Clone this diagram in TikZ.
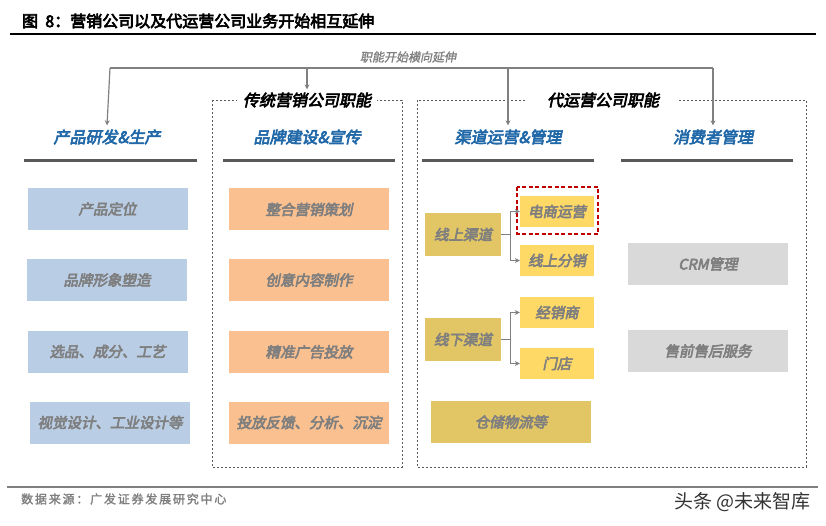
\documentclass[tikz,border=0pt]{standalone}
\usepackage{fontspec}
\usetikzlibrary{arrows.meta}
\newfontfamily\cjk{Noto Sans CJK SC}
\newfontfamily\cjkbi{Noto Sans CJK SC}[FakeSlant=0.2,FakeBold=4]
\newfontfamily\cjkb{Noto Sans CJK SC}[FakeBold=4]
\newfontfamily\cjki{Noto Sans CJK SC}[FakeSlant=0.2,FakeBold=1.5]
\newfontfamily\cjkfoot{Noto Sans CJK SC}[LetterSpace=15,FakeBold=2]
\definecolor{hblue}{HTML}{2068A8}
\definecolor{bluebox}{HTML}{B9CDE5}
\definecolor{orgbox}{HTML}{FAC090}
\definecolor{dgold}{HTML}{E2C564}
\definecolor{lgold}{HTML}{FFD966}
\definecolor{graybox}{HTML}{D9D9D9}
\definecolor{txtgray}{HTML}{7F7F7F}
\definecolor{linegray}{HTML}{595959}
\definecolor{arrgray}{HTML}{808080}
\definecolor{redd}{HTML}{C00000}
\tikzset{
  box/.style={minimum width=160pt, minimum height=42pt, inner sep=0pt, text=txtgray,
    font=\cjkbi\fontsize{14.5}{16}\selectfont},
  bluebx/.style={box, fill=bluebox},
  orgbx/.style={box, fill=orgbox},
  dgbx/.style={box, fill=dgold},
  lgbx/.style={box, fill=lgold, minimum width=74pt, minimum height=31pt},
  graybx/.style={box, fill=graybox},
  chbx/.style={box, fill=dgold, minimum width=76pt, minimum height=43pt},
  hdr/.style={text=hblue, font=\cjkbi\fontsize{16}{18}\selectfont, inner sep=4pt},
  grp/.style={text=black, font=\cjkbi\fontsize{16}{18}\selectfont, fill=white, inner ysep=3pt},
  dbox/.style={draw=linegray, line width=0.8pt, dash pattern=on 2pt off 2pt},
  ul/.style={draw=linegray, line width=3pt},
  arr/.style={draw=arrgray, line width=1.2pt, -{Stealth[length=5pt,width=5pt]}},
  ln/.style={draw=arrgray, line width=1.2pt},
}
\begin{document}
\begin{tikzpicture}[x=1pt,y=-1pt]
\useasboundingbox (0,0) rectangle (826,526);
% title
\node[anchor=west, inner sep=0pt, font=\cjkb\fontsize{16}{18}\selectfont] (title) at (22,21) {图\ \ 8：营销公司以及代运营公司业务开始相互延伸};
\draw[black, line width=1.2pt] (10,34) -- (816,34);
% group boxes
\draw[dbox] (212,100) rectangle (402,467);
\draw[dbox] (417,100) rectangle (806,467);
\node[grp, inner xsep=6pt] (g1) at (307,100) {传统营销公司职能};
\node[grp, inner xsep=20pt] (g2) at (603,100) {代运营公司职能};
% top distribution
\node[text=txtgray, font=\cjki\fontsize{12}{14}\selectfont] (hl) at (408,57) {职能开始横向延伸};
\coordinate (t1) at (110,68);
\coordinate (t2) at (307,68);
\coordinate (t3) at (508,68);
\coordinate (t4) at (713,68);
\draw[ln] (t1) -- (t4);
% headers
\node[hdr] (h1) at (107,137) {产品研发\&生产};
\node[hdr] (h2) at (307,137) {品牌建设\&宣传};
\node[hdr] (h3) at (508,137) {渠道运营\&管理};
\node[hdr] (h4) at (713,137) {消费者管理};
\draw[arr] (t1) -- (h1.north);
\draw[arr] (t2) -- (g1.north);
\draw[arr] (t3) -- (h3.north);
\draw[arr] (t4) -- (h4.north);
\draw[ul] (24,161) -- (197,161);
\draw[ul] (223,161) -- (395,161);
\draw[ul] (422,161) -- (594,161);
\draw[ul] (621,161) -- (793,161);
% blue column
\node[bluebx] (b1) at (107.5,209) {产品定位};
\node[bluebx] (b2) at (107,280) {品牌形象塑造};
\node[bluebx] (b3) at (107.5,351.5) {选品、成分、工艺};
\node[bluebx] (b4) at (110,422.5) {视觉设计、工业设计等};
% orange column
\node[orgbx] (o1) at (309,209.5) {整合营销策划};
\node[orgbx] (o2) at (309,280) {创意内容制作};
\node[orgbx] (o3) at (309,352) {精准广告投放};
\node[orgbx] (o4) at (309,422.5) {投放反馈、分析、沉淀};
% channel column
\node[chbx] (on) at (463,234.5) {线上渠道};
\node[lgbx] (ds) at (557,211.5) {电商运营};
\node[lgbx] (fx) at (557,260.5) {线上分销};
\node[chbx] (off) at (463,339.5) {线下渠道};
\node[lgbx] (jx) at (557,312.5) {经销商};
\node[lgbx] (md) at (557,363.5) {门店};
\node[dgbx] (cc) at (511,422) {仓储物流等};
\draw[draw=redd, line width=1.3pt, dash pattern=on 4pt off 2.5pt] (517,187) rectangle (598,234);
\coordinate (j1) at (510,234.5);
\coordinate (j2) at (510,339.5);
\draw[ln] (on.east) -- (j1);
\draw[arr, line width=1pt] (j1) |- (ds.west);
\draw[arr, line width=1pt] (j1) |- (fx.west);
\draw[ln] (off.east) -- (j2);
\draw[arr, line width=1pt] (j2) |- (jx.west);
\draw[arr, line width=1pt] (j2) |- (md.west);
% consumer column
\node[graybx] (crm) at (708,264) {CRM管理};
\node[graybx] (sh) at (708,351) {售前售后服务};
% footer
\draw[draw=txtgray, line width=1.5pt] (7,487) -- (818,487);
\node[anchor=west, inner sep=0pt, text=txtgray, font=\cjkfoot\fontsize{12}{14}\selectfont] (src) at (21,499) {数据来源：广发证券发展研究中心};
\node[anchor=east, inner sep=0pt, text=black!80, font=\cjk\fontsize{19}{21}\selectfont] (wm) at (811,502) {头条 @未来智库};
\end{tikzpicture}
\end{document}
